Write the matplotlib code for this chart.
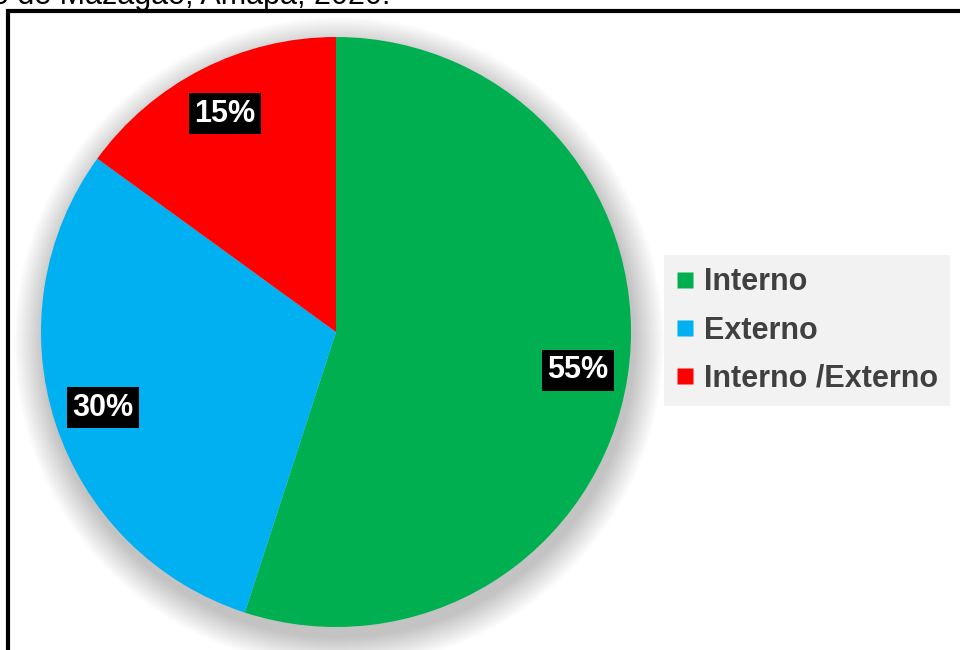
import numpy as np
import matplotlib.pyplot as plt
from matplotlib.patches import Rectangle, Circle
from matplotlib.lines import Line2D

plt.rcParams['font.family'] = ['Liberation Sans', 'DejaVu Sans']

# data
categories = ["Interno", "Externo", "Interno /Externo"]
values = [55, 30, 15]
colors = ["#00B050", "#00B0F0", "#FF0000"]
title_tail = "o de Mazagão, Amapá, 2020."

W, H = 960, 650
fig = plt.figure(figsize=(W / 100, H / 100), dpi=100)
ax = fig.add_axes([0, 0, 1, 1])

cx, cy, r = 336, H - 332, 295

# soft shadow behind the pie, mostly below
for k in range(30):
    ax.add_patch(Circle((cx + 3, cy - 10), r + 30 - k, color='black',
                        alpha=0.006, lw=0, zorder=0))

wedges, _ = ax.pie(values, colors=colors, startangle=90, counterclock=False,
                   center=(cx, cy), radius=r, frame=True,
                   wedgeprops=dict(linewidth=0))
ax.set_xlim(0, W)
ax.set_ylim(0, H)
ax.set_aspect('equal')
ax.axis('off')

# percent labels in black boxes
for w, v in zip(wedges, values):
    ang = np.deg2rad((w.theta1 + w.theta2) / 2)
    x = cx + 0.83 * r * np.cos(ang)
    y = cy + 0.83 * r * np.sin(ang)
    ax.text(x, y, f"{v}%", ha='center', va='center', fontsize=22,
            fontweight='bold', color='white', zorder=5,
            bbox=dict(facecolor='black', edgecolor='none', pad=4))

# frame
fig.add_artist(Rectangle((8 / W, -0.1), 1.2, (H - 11) / H + 0.1,
                         transform=fig.transFigure, fill=False,
                         edgecolor='black', linewidth=3))

# cut-off title
fig.text(-0.008, 1 - 4 / H, title_tail, fontsize=22, va='baseline', ha='left')

handles = [Line2D([], [], marker='s', linestyle='none', markersize=12,
                  markerfacecolor=c, markeredgecolor='none') for c in colors]
leg = fig.legend(handles, categories, loc='upper left',
                 bbox_to_anchor=(664 / W, 1 - 255 / H), frameon=True,
                 facecolor='#F2F2F2', edgecolor='none', fancybox=False,
                 framealpha=1, handlelength=0.6, handletextpad=0.3,
                 labelspacing=0.6, borderpad=0.4, borderaxespad=0,
                 prop=dict(size=22, weight='bold'))
for t in leg.get_texts():
    t.set_color('#404040')

fig.savefig('out.png', dpi=100)
